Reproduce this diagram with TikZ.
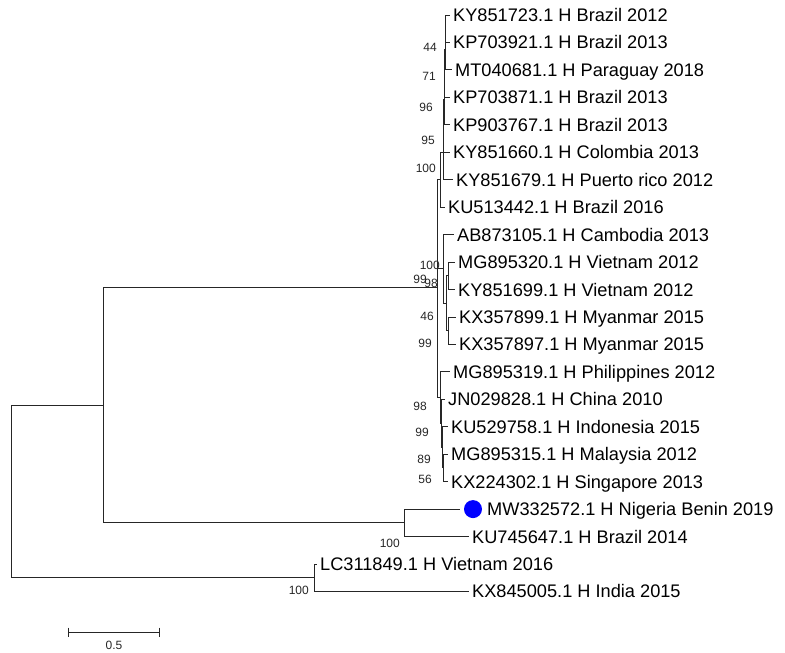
\documentclass[tikz,border=0pt]{standalone}
\usepackage{fontspec}
\setmainfont{Liberation Sans}
\begin{document}
\begin{tikzpicture}[x=1pt,y=-1pt,
  br/.style={draw=black!85, line width=0.9pt},
  leaf/.style={anchor=west, inner xsep=3pt, inner ysep=0pt, text height=13pt, text depth=0pt, font=\fontsize{18.2}{20}\selectfont},
  bs/.style={anchor=east, inner sep=0pt, text=black!85, font=\fontsize{12}{14}\selectfont},
  dotstyle/.style={circle, fill=blue, minimum size=18pt, inner sep=0pt, outer sep=4pt}]
\useasboundingbox (0,0) rectangle (785,653);
% tips
\node[leaf] (t1) at (450,15) {KY851723.1 H Brazil 2012};
\node[leaf] (t2) at (450,42.45) {KP703921.1 H Brazil 2013};
\node[leaf] (t3) at (452,69.9) {MT040681.1 H Paraguay 2018};
\node[leaf] (t4) at (450,97.35) {KP703871.1 H Brazil 2013};
\node[leaf] (t5) at (450,124.8) {KP903767.1 H Brazil 2013};
\node[leaf] (t6) at (450,152.25) {KY851660.1 H Colombia 2013};
\node[leaf] (t7) at (453,179.7) {KY851679.1 H Puerto rico 2012};
\node[leaf] (t8) at (445,207.15) {KU513442.1 H Brazil 2016};
\node[leaf] (t9) at (454,234.6) {AB873105.1 H Cambodia 2013};
\node[leaf] (t10) at (455,262.05) {MG895320.1 H Vietnam 2012};
\node[leaf] (t11) at (455,289.5) {KY851699.1 H Vietnam 2012};
\node[leaf] (t12) at (456,316.95) {KX357899.1 H Myanmar 2015};
\node[leaf] (t13) at (456,344.4) {KX357897.1 H Myanmar 2015};
\node[leaf] (t14) at (450,371.85) {MG895319.1 H Philippines 2012};
\node[leaf] (t15) at (445,399.3) {JN029828.1 H China 2010};
\node[leaf] (t16) at (448,426.75) {KU529758.1 H Indonesia 2015};
\node[leaf] (t17) at (448,454.2) {MG895315.1 H Malaysia 2012};
\node[leaf] (t18) at (448,481.65) {KX224302.1 H Singapore 2013};
\node[dotstyle] (dot) at (473,509.1) {};
\node[leaf] (t19) at (484,509.1) {MW332572.1 H Nigeria Benin 2019};
\node[leaf] (t20) at (469,536.55) {KU745647.1 H Brazil 2014};
\node[leaf] (t21) at (317,564) {LC311849.1 H Vietnam 2016};
\node[leaf] (t22) at (469,591.45) {KX845005.1 H India 2015};
% internal nodes
\coordinate (a1) at (445.5,28.7);
\coordinate (a2) at (445,49.3);
\coordinate (a3) at (444.5,73.3);
\coordinate (a4) at (444,99.1);
\coordinate (a5) at (443.5,125.7);
\coordinate (a6) at (443,152.7);
\coordinate (a7) at (440,179.9);
\coordinate (b1) at (448.5,275.8);
\coordinate (b2) at (448.5,330.7);
\coordinate (b3) at (446,303.2);
\coordinate (b4) at (443.5,268.9);
\coordinate (c1) at (443.5,467.9);
\coordinate (c2) at (442.5,447.3);
\coordinate (c3) at (441.5,423.3);
\coordinate (c4) at (440.5,397.6);
\coordinate (R) at (437.5,287.2);
\coordinate (E) at (404,522.8);
\coordinate (N1) at (103,405);
\coordinate (F) at (314,577.7);
\coordinate (O) at (11,491.4);
% branches
\draw[br] (a1) |- (t1); \draw[br] (a1) |- (t2);
\draw[br] (a2) |- (a1); \draw[br] (a2) |- (t3);
\draw[br] (a3) |- (a2); \draw[br] (a3) |- (t4);
\draw[br] (a4) |- (a3); \draw[br] (a4) |- (t5);
\draw[br] (a5) |- (a4); \draw[br] (a5) |- (t6);
\draw[br] (a6) |- (a5); \draw[br] (a6) |- (t7);
\draw[br] (a7) |- (a6); \draw[br] (a7) |- (t8);
\draw[br] (b1) |- (t10); \draw[br] (b1) |- (t11);
\draw[br] (b2) |- (t12); \draw[br] (b2) |- (t13);
\draw[br] (b3) |- (b1); \draw[br] (b3) |- (b2);
\draw[br] (b4) |- (t9); \draw[br] (b4) |- (b3);
\draw[br] (c1) |- (t17); \draw[br] (c1) |- (t18);
\draw[br] (c2) |- (t16); \draw[br] (c2) |- (c1);
\draw[br] (c3) |- (t15); \draw[br] (c3) |- (c2);
\draw[br] (c4) |- (t14); \draw[br] (c4) |- (c3);
\draw[br] (R) |- (a7); \draw[br] (R) |- (b4); \draw[br] (R) |- (c4);
\draw[br] (E) |- (dot); \draw[br] (E) |- (t20);
\draw[br] (N1) |- (R); \draw[br] (N1) |- (E);
\draw[br] (F) |- (t21); \draw[br] (F) |- (t22);
\draw[br] (O) |- (N1); \draw[br] (O) |- (F);
% bootstrap labels
\node[bs] (s1) at (437,47) {44};
\node[bs] (s2) at (436,76) {71};
\node[bs] (s3) at (433,107) {96};
\node[bs] (s4) at (435,140) {95};
\node[bs] (s5) at (436,168) {100};
\node[bs] (s6) at (440,265) {100};
\node[bs] (s7) at (427,279) {99};
\node[bs] (s8) at (438,283) {98};
\node[bs] (s9) at (434,316) {46};
\node[bs] (s10) at (432,343) {99};
\node[bs] (s11) at (427,406) {98};
\node[bs] (s12) at (429,432) {99};
\node[bs] (s13) at (431,459) {89};
\node[bs] (s14) at (432,479) {56};
\node[bs] (s15) at (400,543) {100};
\node[bs] (s16) at (309,590) {100};
% scale bar
\coordinate (sbL) at (68,632);
\coordinate (sbR) at (159,632);
\draw[br] (sbL) -- (sbR);
\draw[br] (sbL) ++(0,-4.5) -- ++(0,9);
\draw[br] (sbR) ++(0,-4.5) -- ++(0,9);
\node[inner sep=0pt, text=black!85, font=\fontsize{12}{14}\selectfont] (sblab) at (114,645) {0.5};
\end{tikzpicture}
\end{document}
